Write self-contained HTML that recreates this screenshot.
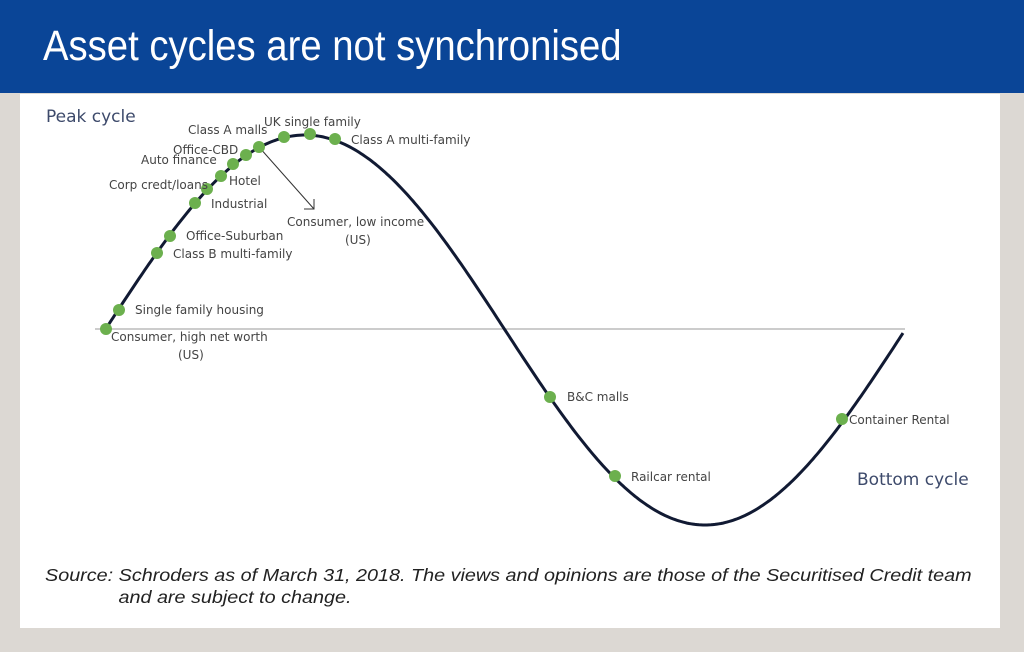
<!DOCTYPE html>
<html><head><meta charset="utf-8"><style>
html,body{margin:0;padding:0;width:1024px;height:652px;overflow:hidden;background:#dcd8d3;}
#hdr{position:absolute;left:0;top:0;width:1024px;height:93px;background:#0a4597;}
#ttl{position:absolute;left:43px;top:22px;color:#fff;font-family:"Liberation Sans",sans-serif;font-size:43px;white-space:nowrap;transform:scaleX(0.89);transform-origin:0 0;}
#panel{position:absolute;left:20px;top:94px;width:980px;height:534px;background:#fff;}
svg{position:absolute;left:0;top:0;}
.l{font-family:"DejaVu Sans","Liberation Sans",sans-serif;font-size:12px;fill:#444;}
.b{font-family:"DejaVu Sans","Liberation Sans",sans-serif;font-size:17px;fill:#3d4a6b;}
#src{position:absolute;left:45px;top:564px;font-family:"Liberation Sans",sans-serif;font-style:italic;font-size:17.5px;color:#222;line-height:22px;white-space:nowrap;transform:scaleX(1.13);transform-origin:0 0;}
</style></head><body>
<div id="hdr"></div>
<div id="ttl">Asset cycles are not synchronised</div>
<div id="panel"></div>
<svg width="1024" height="652" id="s">
<line x1="95" y1="329" x2="905" y2="329" stroke="#999" stroke-width="1"/>
<polyline id="curve" fill="none" stroke="#111a33" stroke-width="3" points=""/>
<line x1="259" y1="147" x2="314" y2="209" stroke="#333" stroke-width="1"/>
<polyline points="304,209 314,209 314,199" fill="none" stroke="#333" stroke-width="1"/>
<g fill="#6cb04e">
<circle cx="106" cy="329" r="6"/><circle cx="119" cy="310" r="6"/><circle cx="157" cy="253" r="6"/>
<circle cx="170" cy="236" r="6"/><circle cx="195" cy="203" r="6"/><circle cx="207" cy="189" r="6"/>
<circle cx="221" cy="176" r="6"/><circle cx="233" cy="164" r="6"/><circle cx="246" cy="155" r="6"/>
<circle cx="259" cy="147" r="6"/><circle cx="284" cy="137" r="6"/><circle cx="310" cy="134" r="6"/>
<circle cx="335" cy="139" r="6"/><circle cx="550" cy="397" r="6"/><circle cx="615" cy="476" r="6"/>
<circle cx="842" cy="419" r="6"/>
</g>
<text class="b" x="46" y="122">Peak cycle</text>
<text class="b" x="857" y="485">Bottom cycle</text>
<g class="l">
<text x="188" y="134">Class A malls</text>
<text x="264" y="126">UK single family</text>
<text x="351" y="144">Class A multi-family</text>
<text x="173" y="154">Office-CBD</text>
<text x="141" y="164">Auto finance</text>
<text x="229" y="185">Hotel</text>
<text x="109" y="189">Corp credt/loans</text>
<text x="211" y="208">Industrial</text>
<text x="287" y="226">Consumer, low income</text>
<text x="345" y="244">(US)</text>
<text x="186" y="240">Office-Suburban</text>
<text x="173" y="258">Class B multi-family</text>
<text x="135" y="314">Single family housing</text>
<text x="111" y="341">Consumer, high net worth</text>
<text x="178" y="359">(US)</text>
<text x="567" y="401">B&amp;C malls</text>
<text x="631" y="481">Railcar rental</text>
<text x="849" y="424">Container Rental</text>
</g>
</svg>
<div id="src">Source: Schroders as of March 31, 2018. The views and opinions are those of the Securitised Credit team<br><span style="padding-left:65px">and are subject to change.</span></div>
<script>
var p=[];for(var x=105;x<=903;x+=2){var y=330-195*Math.sin(2*Math.PI*(x-105)/800);p.push(x+","+y.toFixed(1));}
document.getElementById("curve").setAttribute("points",p.join(" "));
</script>
</body></html>
